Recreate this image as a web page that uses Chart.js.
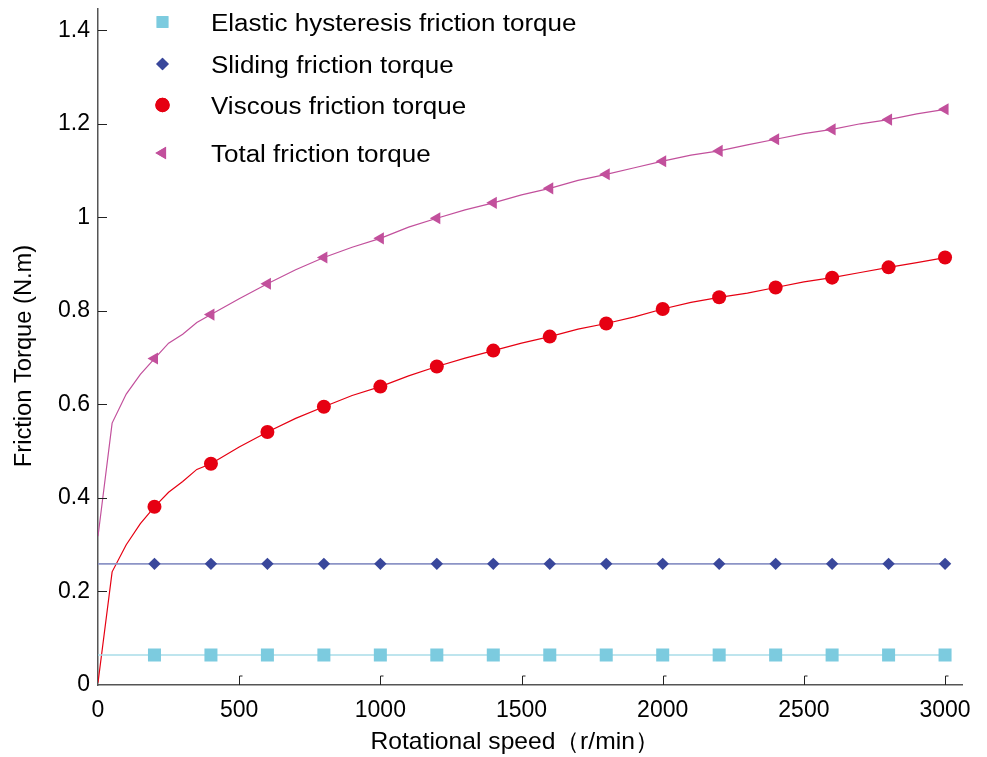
<!DOCTYPE html>
<html>
<head>
<meta charset="utf-8">
<script src="https://cdn.jsdelivr.net/npm/chart.js@4.4.1/dist/chart.umd.min.js"></script>
<style>
  html, body { margin: 0; padding: 0; background: #fff; }
  #wrap { width: 987px; height: 757px; position: relative; }
</style>
</head>
<body>
<div id="wrap"><canvas id="c" width="987" height="757"></canvas></div>
<script>
// Rotational speed (r/min) for the sampled curves
const speeds = [0, 50, 100, 150, 200, 250, 300, 350,
  400, 500, 600, 700, 800, 900, 1000, 1100, 1200, 1300, 1400, 1500, 1600, 1700,
  1800, 1900, 2000, 2100, 2200, 2300, 2400, 2500, 2600, 2700, 2800, 2900, 3000];

// Viscous friction torque (N.m)
const viscous = [0.005, 0.242, 0.300, 0.345, 0.381, 0.412, 0.435, 0.461,
  0.473, 0.509, 0.541, 0.570, 0.595, 0.619, 0.638, 0.661, 0.681, 0.699, 0.715, 0.731, 0.745, 0.761,
  0.773, 0.787, 0.804, 0.818, 0.829, 0.838, 0.850, 0.862, 0.871, 0.882, 0.893, 0.903, 0.914];

// Total friction torque (N.m)
const total = [0.318, 0.560, 0.622, 0.664, 0.698, 0.731, 0.750, 0.775,
  0.792, 0.826, 0.858, 0.888, 0.914, 0.936, 0.955, 0.979, 0.998, 1.016, 1.031, 1.048, 1.062, 1.079,
  1.092, 1.106, 1.120, 1.133, 1.142, 1.155, 1.167, 1.179, 1.188, 1.200, 1.209, 1.221, 1.231];

// Speed-independent components
const constSpeeds = [0, 200, 400, 600, 800, 1000, 1200, 1400, 1600, 1800, 2000, 2200, 2400, 2600, 2800, 3000];
const elastic = [0.064, 0.064, 0.064, 0.064, 0.064, 0.064, 0.064, 0.064, 0.064, 0.064, 0.064, 0.064, 0.064, 0.064, 0.064, 0.064];
const sliding = [0.259, 0.259, 0.259, 0.259, 0.259, 0.259, 0.259, 0.259, 0.259, 0.259, 0.259, 0.259, 0.259, 0.259, 0.259, 0.259];

// Axis ticks
const yTicks = [0, 0.2, 0.4, 0.6, 0.8, 1, 1.2, 1.4];
const xTicks = [0, 500, 1000, 1500, 2000, 2500, 3000];

const FONT = '"Liberation Sans", Arial, Helvetica, sans-serif';

function pts(xs, ys) { return xs.map((x, i) => ({ x: x, y: ys[i] })); }
// markers only every 200 r/min
function markerRadius(r) {
  return ctx => {
    const x = ctx.raw && ctx.raw.x;
    return (x > 0 && x % 200 === 0) ? r : 0;
  };
}

const datasets = [
  {
    label: 'Elastic hysteresis friction torque',
    data: pts(constSpeeds, elastic),
    borderColor: '#a9dce9', borderWidth: 1.6,
    pointStyle: 'rect', pointRadius: markerRadius(9.2),
    pointBackgroundColor: '#7ccbdf', pointBorderColor: '#7ccbdf', pointBorderWidth: 0,
    legendY: 22, legendR: 8.3
  },
  {
    label: 'Sliding friction torque',
    data: pts(constSpeeds, sliding),
    borderColor: '#8c94c6', borderWidth: 1.6,
    pointStyle: 'rectRot', pointRadius: markerRadius(6.2),
    pointBackgroundColor: '#39479b', pointBorderColor: '#39479b', pointBorderWidth: 0,
    legendY: 64, legendR: 6.3
  },
  {
    label: 'Viscous friction torque',
    data: pts(speeds, viscous),
    borderColor: '#e60012', borderWidth: 1.2,
    pointStyle: 'circle', pointRadius: markerRadius(7),
    pointBackgroundColor: '#e60012', pointBorderColor: '#e60012', pointBorderWidth: 0,
    legendY: 105, legendR: 7.2
  },
  {
    label: 'Total friction torque',
    data: pts(speeds, total),
    borderColor: '#c2509c', borderWidth: 1.2,
    pointStyle: 'triangle', pointRotation: -90, pointRadius: markerRadius(7),
    pointBackgroundColor: '#c2509c', pointBorderColor: '#c2509c', pointBorderWidth: 0,
    legendY: 153, legendR: 7.1
  }
];

// text drawn with a slight horizontal stretch
function stretchedText(ctx, text, x, y, sx) {
  ctx.save();
  ctx.translate(x, y);
  ctx.scale(sx, 1);
  ctx.fillText(text, 0, 0);
  ctx.restore();
}

// Legend, axis titles and inward tick marks
const decorations = {
  id: 'decorations',
  afterDraw(chart) {
    const ctx = chart.ctx;
    const xs = chart.scales.x, ys = chart.scales.y;
    const area = chart.chartArea;
    ctx.save();
    // inward tick marks
    ctx.strokeStyle = '#222';
    ctx.lineWidth = 1;
    yTicks.forEach(v => {
      if (v === 0) return;
      const y = Math.round(ys.getPixelForValue(v)) + 0.5;
      ctx.beginPath(); ctx.moveTo(area.left, y); ctx.lineTo(area.left + 9, y); ctx.stroke();
    });
    xTicks.forEach(v => {
      if (v === 0) return;
      const x = Math.round(xs.getPixelForValue(v)) + 0.5;
      ctx.beginPath(); ctx.moveTo(x, area.bottom); ctx.lineTo(x, area.bottom - 9); ctx.lineTo(x + 3, area.bottom - 9); ctx.stroke();
    });

    // legend
    ctx.font = '23px ' + FONT;
    ctx.textBaseline = 'middle';
    ctx.textAlign = 'left';
    chart.data.datasets.forEach(ds => {
      ctx.fillStyle = ds.pointBackgroundColor;
      Chart.helpers.drawPoint(ctx, {
        pointStyle: ds.pointStyle, radius: ds.legendR, rotation: ds.pointRotation || 0, borderWidth: 0
      }, 162.5, ds.legendY);
      ctx.fill();
      ctx.fillStyle = '#000';
      stretchedText(ctx, ds.label, 211, ds.legendY + 3, 1.13);
    });

    // axis titles
    ctx.font = '24px ' + FONT;
    ctx.textAlign = 'center';
    ctx.textBaseline = 'middle';
    const xTitle = 'Rotational speed（r/min）';
    const w = ctx.measureText(xTitle).width;
    stretchedText(ctx, xTitle, 515, 742, 289 / w);
    ctx.font = '23px ' + FONT;
    ctx.translate(25, 356);
    ctx.rotate(-Math.PI / 2);
    stretchedText(ctx, 'Friction Torque (N.m)', 0, 0, 1.03);
    ctx.restore();
  }
};

new Chart(document.getElementById('c'), {
  type: 'line',
  data: { datasets: datasets },
  options: {
    responsive: false,
    animation: false,
    layout: { padding: { top: 8, right: 25, bottom: 0, left: 0 } },
    plugins: { legend: { display: false }, tooltip: { enabled: false } },
    elements: { line: { tension: 0 } },
    scales: {
      x: {
        type: 'linear', min: 0, max: 3060,
        grid: { display: false, drawTicks: false },
        border: { display: true, color: '#555', width: 1.5 },
        afterBuildTicks: s => { s.ticks = xTicks.map(v => ({ value: v })); },
        afterFit: s => { s.height = 72; s.paddingLeft = 0; s.paddingRight = 0; },
        ticks: {
          color: '#000', padding: 12, maxRotation: 0,
          font: { family: FONT, size: 23 },
          callback: v => String(v)
        }
      },
      y: {
        type: 'linear', min: 0, max: 1.445,
        grid: { display: false, drawTicks: false },
        border: { display: true, color: '#555', width: 1.5 },
        afterBuildTicks: s => { s.ticks = yTicks.map(v => ({ value: v })); },
        afterFit: s => { s.width = 98; s.paddingTop = 0; s.paddingBottom = 0; },
        ticks: {
          color: '#000', padding: 8,
          font: { family: FONT, size: 23 },
          callback: v => String(Number(v.toFixed(1)))
        }
      }
    }
  },
  plugins: [decorations]
});
</script>
</body>
</html>
